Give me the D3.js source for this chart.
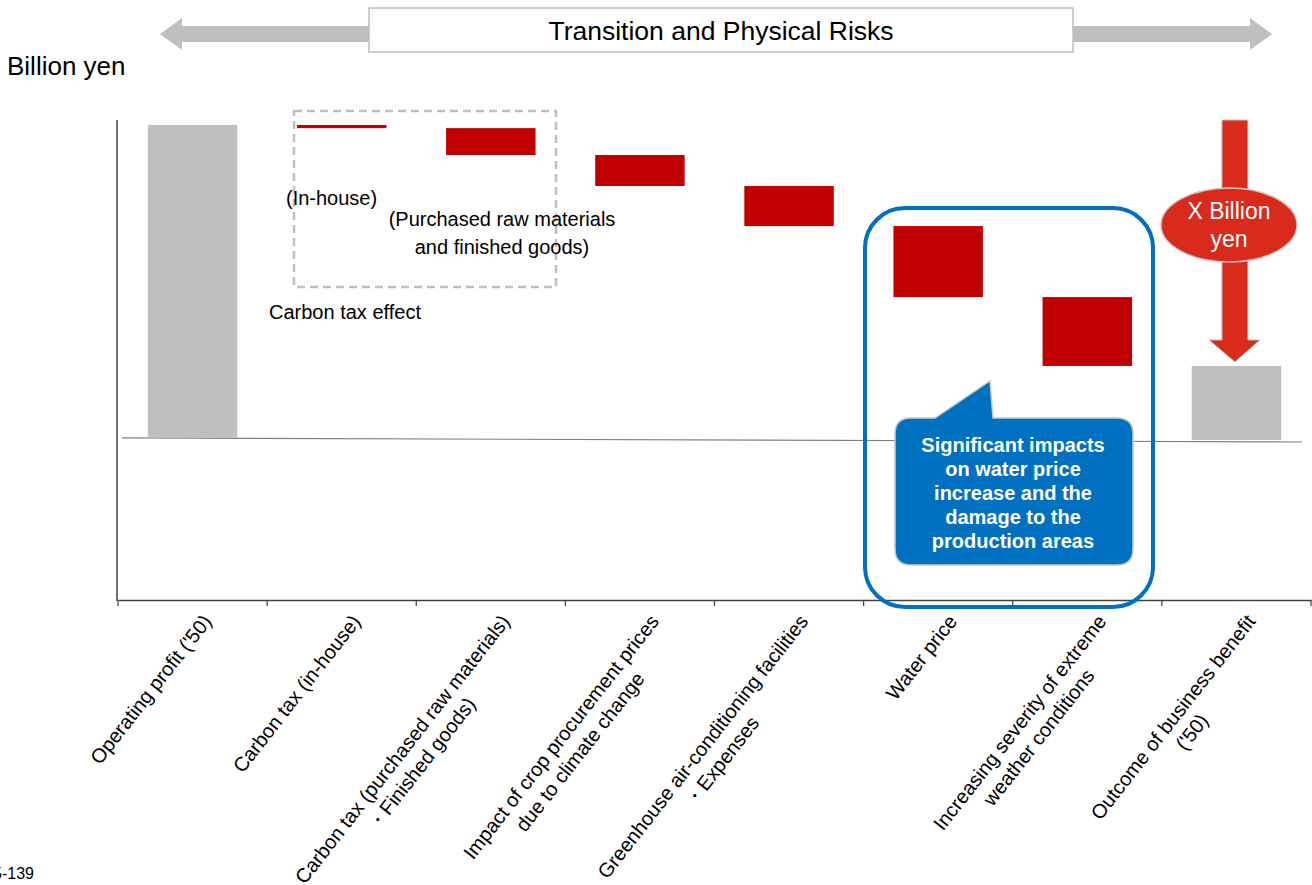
<!DOCTYPE html>
<html>
<head>
<meta charset="utf-8">
<script src="https://cdn.jsdelivr.net/npm/d3@7"></script>
<style>
  body { margin: 0; background: #fff; }
  text { font-family: Arial, "Liberation Sans", sans-serif; }
</style>
</head>
<body>
<script>
const width = 1312,
    height = 885;

// categories, one label line per array entry
const categories = [
    ['Operating profit (\'50)'],
    ['Carbon tax (in-house)'],
    ['Carbon tax (purchased raw materials)', '・Finished goods)'],
    ['Impact of crop procurement prices', 'due to climate change'],
    ['Greenhouse air-conditioning facilities', '・Expenses'],
    ['Water price'],
    ['Increasing severity of extreme', 'weather conditions'],
    ['Outcome of business benefit', '(\'50)']
];
// waterfall steps (arbitrary units, start = 100); last one is the total
const changes = [100, -1, -8.6, -9.9, -12.8, -22.7, -22, null];
const kinds = ['total', 'delta', 'delta', 'delta', 'delta', 'delta', 'delta', 'total'];

const calloutLines = ['Significant impacts', 'on water price', 'increase and the', 'damage to the', 'production areas'];
const carbonNotes = ['(In-house)', '(Purchased raw materials', 'and finished goods)', 'Carbon tax effect'];

// build waterfall rows
let running = 0;
const rows = changes.map(function (c, i) {
    let lo, hi;
    if (kinds[i] === 'total') {
        if (c !== null) running = c;
        lo = 0; hi = running;
    } else {
        hi = running;
        running += c;
        lo = running;
    }
    return {label: categories[i], kind: kinds[i], lo: lo, hi: hi, i: i};
});

const svg = d3.select('body').append('svg')
    .attr('width', width)
    .attr('height', height);

const x = d3.scaleBand()
    .domain(d3.range(categories.length))
    .range([118, 1311]);

const y = d3.scaleLinear()
    .domain([-51.8, 101.6])
    .range([600, 120]);

const barW = x.bandwidth() * 0.6;
const cx = i => x(i) + x.bandwidth() / 2;

// top banner: double arrow + box
const ay = 34;
svg.append('path')
    .attr('d', 'M160,' + ay + ' L182,' + (ay - 16) + ' L182,' + (ay - 8) + ' L1250,' + (ay - 8) +
        ' L1250,' + (ay - 16) + ' L1272,' + ay + ' L1250,' + (ay + 16) + ' L1250,' + (ay + 8) +
        ' L182,' + (ay + 8) + ' L182,' + (ay + 16) + ' Z')
    .attr('fill', '#bfbfbf');
svg.append('rect')
    .attr('x', 369).attr('y', 8).attr('width', 704).attr('height', 44)
    .attr('fill', '#fff').attr('stroke', '#bfbfbf').attr('stroke-width', 1.5);
svg.append('text')
    .attr('x', 721).attr('y', 40)
    .attr('text-anchor', 'middle')
    .style('font-size', '26.5px')
    .text('Transition and Physical Risks');

svg.append('text')
    .attr('x', 7).attr('y', 75)
    .style('font-size', '26px')
    .text('Billion yen');

// axes
svg.append('line')
    .attr('x1', 117).attr('x2', 117).attr('y1', 120).attr('y2', 601)
    .attr('stroke', '#404040').attr('stroke-width', 1.5);

const xAxis = d3.axisBottom(x).tickSize(0).tickFormat('');
const gx = svg.append('g')
    .attr('transform', 'translate(0,600)')
    .call(xAxis);
gx.select('.domain').attr('stroke', '#404040').attr('stroke-width', 1.5);
gx.selectAll('.tickmark')
    .data(d3.range(categories.length + 1))
    .enter().append('line')
    .attr('x1', d => d < categories.length ? x(d) : x.range()[1])
    .attr('x2', d => d < categories.length ? x(d) : x.range()[1])
    .attr('y1', 0).attr('y2', 6)
    .attr('stroke', '#404040').attr('stroke-width', 1.2);

// category labels, rotated
const lineH = 24;
const labels = svg.append('g').selectAll('g')
    .data(rows)
    .enter().append('g')
    .attr('transform', d => 'translate(' + (cx(d.i) + 9) + ',613) rotate(-52)');
labels.each(function (d) {
    const g = d3.select(this);
    const texts = g.selectAll('text')
        .data(d.label)
        .enter().append('text')
        .attr('y', (t, j) => j * lineH + 14)
        .attr('text-anchor', 'middle')
        .style('font-size', '20px')
        .text(t => t);
    let w = 0;
    texts.each(function () { w = Math.max(w, this.getComputedTextLength()); });
    texts.attr('x', -w / 2);
});

// baseline
svg.append('line')
    .attr('x1', 122).attr('x2', 1302)
    .attr('y1', y(0)).attr('y2', y(-1.3))
    .attr('stroke', '#808080').attr('stroke-width', 1.2);

// bars
svg.append('g').selectAll('rect')
    .data(rows)
    .enter().append('rect')
    .attr('x', d => cx(d.i) - barW / 2)
    .attr('width', barW)
    .attr('y', d => y(d.hi))
    .attr('height', d => y(d.lo) - y(d.hi) + (d.i === 7 ? 2 : 0))
    .attr('fill', d => d.kind === 'total' ? '#bfbfbf' : '#c00000');

// carbon tax dashed group
svg.append('rect')
    .attr('x', 294).attr('y', 111).attr('width', 262).attr('height', 176)
    .attr('fill', 'none').attr('stroke', '#bfbfbf')
    .attr('stroke-width', 2.5).attr('stroke-dasharray', '8,5');
svg.append('text').attr('x', 286).attr('y', 205).style('font-size', '20px').text(carbonNotes[0]);
svg.append('text').attr('x', 502).attr('y', 226).attr('text-anchor', 'middle').style('font-size', '20px').text(carbonNotes[1]);
svg.append('text').attr('x', 502).attr('y', 254).attr('text-anchor', 'middle').style('font-size', '20px').text(carbonNotes[2]);
svg.append('text').attr('x', 269).attr('y', 319).style('font-size', '20px').text(carbonNotes[3]);

// physical risk highlight
svg.append('rect')
    .attr('x', 865).attr('y', 208).attr('width', 288).attr('height', 399)
    .attr('rx', 40).attr('ry', 40)
    .attr('fill', 'none').attr('stroke', '#0070c0').attr('stroke-width', 4);

// callout
const callout = svg.append('g');
callout.append('path')
    .attr('d', 'M911,418 L935,418 L990,381 L993,418 L1117,418 Q1133,418 1133,434 L1133,549 Q1133,565 1117,565 L911,565 Q895,565 895,549 L895,434 Q895,418 911,418 Z')
    .attr('fill', '#0070c0').attr('stroke', '#c8c8c8').attr('stroke-width', 1.5);
callout.selectAll('text')
    .data(calloutLines)
    .enter().append('text')
    .attr('x', 1013)
    .attr('y', (t, j) => 452 + j * 24)
    .attr('text-anchor', 'middle')
    .attr('fill', '#fff')
    .style('font-size', '20px')
    .style('font-weight', 'bold')
    .text(t => t);

// big red arrow down to outcome bar
const ax = cx(7) - 1.5;
const tipY = y(rows[7].hi) - 4;
svg.append('path')
    .attr('d', 'M' + (ax - 13) + ',' + y(101.6) + ' L' + (ax + 13) + ',' + y(101.6) +
        ' L' + (ax + 13) + ',' + (tipY - 22) + ' L' + (ax + 25) + ',' + (tipY - 22) +
        ' L' + ax + ',' + tipY + ' L' + (ax - 26) + ',' + (tipY - 22) +
        ' L' + (ax - 13) + ',' + (tipY - 22) + ' Z')
    .attr('fill', '#d92a1c').attr('stroke', '#c8c8c8').attr('stroke-width', 1);
svg.append('ellipse')
    .attr('cx', 1229).attr('cy', 225).attr('rx', 68).attr('ry', 37)
    .attr('fill', '#d92a1c').attr('stroke', '#c8c8c8').attr('stroke-width', 1.5);
svg.append('text').attr('x', 1229).attr('y', 219).attr('text-anchor', 'middle')
    .attr('fill', '#fff').style('font-size', '23px').text('X Billion');
svg.append('text').attr('x', 1229).attr('y', 247).attr('text-anchor', 'middle')
    .attr('fill', '#fff').style('font-size', '23px').text('yen');

svg.append('text')
    .attr('x', -7).attr('y', 879)
    .style('font-size', '16px')
    .text('5-139');
</script>
</body>
</html>
